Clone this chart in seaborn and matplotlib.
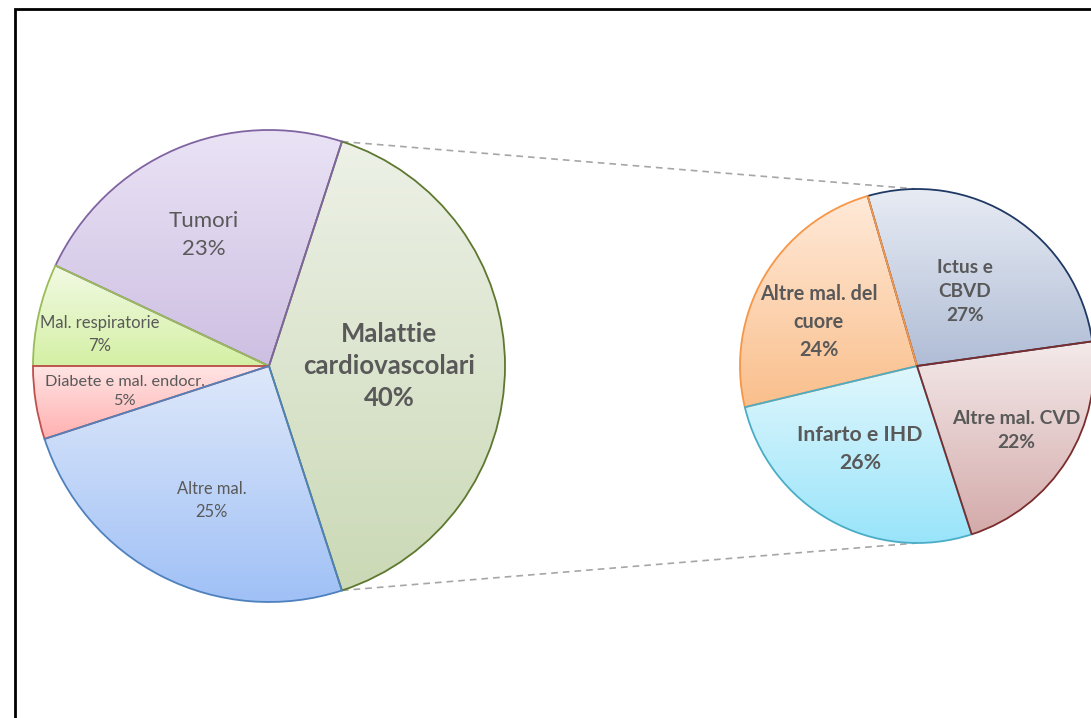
import numpy as np
import matplotlib
matplotlib.use("Agg")
import matplotlib.pyplot as plt
import seaborn as sns
from matplotlib.colors import LinearSegmentedColormap
from matplotlib.patches import Rectangle

# ---------------- data ----------------
main_labels = ["Malattie\ncardiovascolari", "Tumori", "Mal. respiratorie",
               "Diabete e mal. endocr.", "Altre mal."]
main_values = [40, 23, 7, 5, 25]

sub_labels = ["Ictus e\nCBVD", "Altre mal. del\ncuore", "Infarto e IHD", "Altre mal. CVD"]
sub_values = [27, 24, 26, 22]

# ---------------- style ----------------
sns.set_theme(style="white")
plt.rcParams['font.family'] = ['Lato', 'DejaVu Sans']

main_top = ["#EDF1E7", "#EBE4F6", "#F2FAE4", "#FFE4E4", "#DEE8FA"]
main_bot = ["#CBD9B6", "#CDBFE2", "#D4F0A4", "#FFB0B0", "#9FC0F6"]
main_edge = ["#5E7830", "#8064A2", "#9BBB59", "#C0504D", "#4F81BD"]
main_fs = [18.5, 16, 12, 11.7, 11.9]
main_ls = [1.42, 1.52, 1.5, 1.5, 1.5]
main_bold = [True, False, False, False, False]
main_rf = [0.51, 0.62, 0.73, 0.62, 0.62]
main_dth = [0, 3, 2, 1, 4]

sub_top = ["#E8ECF4", "#FFEAD9", "#E0F7FD", "#F4EAEA"]
sub_bot = ["#B0BDD6", "#FABF8C", "#98E4FA", "#D4AAAA"]
sub_edge = ["#1F3864", "#F79646", "#4BACC6", "#7B2C2C"]
sub_fs = [13.7, 14.3, 15.3, 13.9]
sub_rf = [0.50, 0.61, 0.57, 0.67]
sub_dth = [0, 6, -5, -1]

text_color = "#595959"

W, H = 1091, 718
fig = plt.figure(figsize=(W / 100, H / 100), dpi=100)
ax = fig.add_axes([0, 0, 1, 1])

main_center, main_r = (269, H - 366), 236
sub_center, sub_r = (917, H - 366), 177


def gradient_fill(wedge, ctop, cbot):
    v = wedge.get_path().vertices
    x0, x1 = v[:, 0].min(), v[:, 0].max()
    y0, y1 = v[:, 1].min(), v[:, 1].max()
    cmap = LinearSegmentedColormap.from_list("g", [cbot, ctop])
    grad = np.linspace(0, 1, 256).reshape(-1, 1)
    im = ax.imshow(grad, extent=[x0, x1, y0, y1], origin="lower", cmap=cmap,
                   aspect="auto", zorder=1, interpolation="bilinear")
    im.set_clip_path(wedge)
    wedge.set_facecolor("none")


wm, _ = ax.pie(main_values, center=main_center, radius=main_r, startangle=-72,
               counterclock=True, frame=True,
               wedgeprops=dict(linewidth=1.3, zorder=2))
ws, _ = ax.pie(sub_values, center=sub_center, radius=sub_r, startangle=8,
               counterclock=True, frame=True,
               wedgeprops=dict(linewidth=1.3, zorder=2))

for w, ct, cb, ce in zip(wm, main_top, main_bot, main_edge):
    w.set_edgecolor(ce)
    gradient_fill(w, ct, cb)
for w, ct, cb, ce in zip(ws, sub_top, sub_bot, sub_edge):
    w.set_edgecolor(ce)
    gradient_fill(w, ct, cb)

# labels
for w, lab, val, fs, ls, b, rf, dth in zip(wm, main_labels, main_values, main_fs,
                                           main_ls, main_bold, main_rf, main_dth):
    ang = np.deg2rad((w.theta1 + w.theta2) / 2 + dth)
    x = w.center[0] + w.r * rf * np.cos(ang)
    y = w.center[1] + w.r * rf * np.sin(ang)
    ax.text(x, y, f"{lab}\n{val}%", ha="center", va="center", fontsize=fs,
            fontweight="bold" if b else "normal", color=text_color,
            linespacing=ls, zorder=5)

for w, lab, val, fs, rf, dth in zip(ws, sub_labels, sub_values, sub_fs, sub_rf, sub_dth):
    ang = np.deg2rad((w.theta1 + w.theta2) / 2 + dth)
    x = w.center[0] + w.r * rf * np.cos(ang)
    y = w.center[1] + w.r * rf * np.sin(ang)
    ax.text(x, y, f"{lab}\n{val}%", ha="center", va="center", fontsize=fs,
            fontweight="bold", color=text_color, linespacing=1.5, zorder=5)

# connector lines from the exploded slice to the secondary pie
cvd = wm[0]
for th, sy in [(cvd.theta2, 1), (cvd.theta1, -1)]:
    a = np.deg2rad(th)
    x0 = cvd.center[0] + cvd.r * np.cos(a)
    y0 = cvd.center[1] + cvd.r * np.sin(a)
    x1 = sub_center[0]
    y1 = sub_center[1] + sy * sub_r
    ax.plot([x0, x1], [y0, y1], ls=(0, (4, 3)), color="#A6A6A6", lw=1.2, zorder=0.5)

# outer frame (only top/left visible)
ax.add_patch(Rectangle((15, -20), 1200, H - 9 + 20, fill=False, edgecolor="black",
                       lw=2, zorder=6, clip_on=False))

ax.set_xlim(0, W)
ax.set_ylim(0, H)
ax.set_aspect("auto")
ax.axis("off")

fig.savefig("out.png", dpi=100, facecolor="white")
